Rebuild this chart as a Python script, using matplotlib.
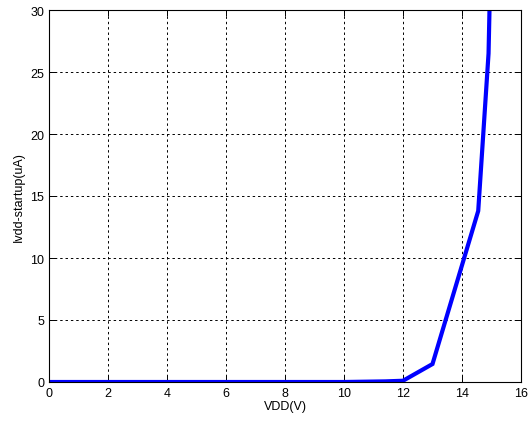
import matplotlib
matplotlib.use("Agg")
import matplotlib.pyplot as plt

vdd = [0, 2, 4, 6, 8, 10, 11.4, 12.0, 13.0, 14.55, 14.9, 14.95]
idd = [0, 0, 0, 0, 0, 0, 0.05, 0.1, 1.45, 13.8, 26.5, 32]

xticks = [0, 2, 4, 6, 8, 10, 12, 14, 16]
yticks = [0, 5, 10, 15, 20, 25, 30]

plt.rcParams['font.family'] = ['Liberation Sans', 'DejaVu Sans']
fig = plt.figure(figsize=(5.31, 4.27), dpi=100)
ax = fig.add_axes([49/531, 44/427, (521-49)/531, (383-11)/427])
ax.plot(vdd, idd, color='#0000ff', lw=3, solid_joinstyle='miter', clip_on=True)
ax.set_xlim(0, 16)
ax.set_ylim(0, 30)
ax.set_xticks(xticks)
ax.set_yticks(yticks)
ax.grid(True, color='black', linestyle=(0, (2.5, 3)), lw=0.7)
ax.tick_params(direction='in', top=True, right=True, labelsize=9, length=4, width=0.7)
for s in ax.spines.values():
    s.set_linewidth(0.8)
ax.set_xlabel('VDD(V)', fontsize=9, labelpad=1)
ax.set_ylabel('Ivdd-startup(uA)', fontsize=9, labelpad=4)
fig.savefig('out.png', dpi=100)
